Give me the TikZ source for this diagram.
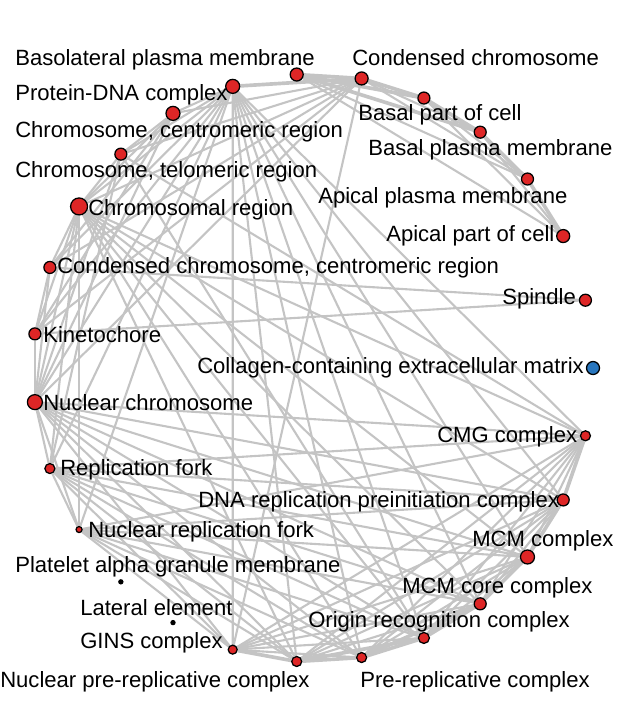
\documentclass[tikz,border=0pt]{standalone}
\usepackage{fontspec}
\setmainfont{Liberation Sans}
\usetikzlibrary{positioning}
\pgfdeclarelayer{background}
\pgfsetlayers{background,main}
\definecolor{nodered}{RGB}{222,38,38}
\definecolor{nodeblue}{RGB}{40,118,190}
\definecolor{edgegray}{RGB}{196,196,196}

\begin{document}
\begin{tikzpicture}[
	% pixel grid of the figure, y runs down:
	x={(0.025cm,0cm)},
	y={(0cm,-0.025cm)},
	font=\fontsize{15.7}{18}\selectfont,
	dot/.style={circle,draw=black,line width=0.9pt,inner sep=0pt},
	edge/.style={edgegray,line width=1.5pt},
	edgethick/.style={edgegray,line width=2.6pt},
	lbl/.style={anchor=base west,inner sep=0pt}
	]
	\useasboundingbox (0,0) rectangle (632,716);
	
	%
	% Terms on the ellipse (27 slots)
	%
	\foreach \k/\r/\c in {0/6.5/nodeblue,1/6/nodered,2/6.5/nodered,3/6/nodered,
		4/6/nodered,5/6/nodered,6/6.5/nodered,7/6.5/nodered,8/7/nodered,
		9/7/nodered,10/6/nodered,11/8.5/nodered,12/6/nodered,13/6/nodered,
		14/7.5/nodered,15/5/nodered,16/3/nodered,17/2/black,18/2/black,
		19/4.5/nodered,20/5/nodered,21/5/nodered,22/5.5/nodered,23/6/nodered,
		24/7/nodered,25/6/nodered,26/5/nodered}{
		\node[dot,fill=\c,minimum size=2*\r*0.025cm] (n\k)
		at ({313+280*cos(\k*360/27)},{368-294*sin(\k*360/27)}) {};
	}
	
	%
	% Shared-gene links
	%
	\begin{pgfonlayer}{background}
	\foreach \a/\b in {7/3,7/2,6/4,6/3,5/3,5/2,4/2,1/12,1/13,
		8/9,8/10,8/11,8/12,8/13,8/14,8/15,8/16,
		6/9,6/10,6/11,6/12,6/13,6/14,
		9/10,9/11,9/12,9/13,9/14,10/11,10/14,10/15,
		11/12,11/13,11/14,11/15,11/16,12/13,12/14,13/14,
		14/15,14/16,15/16,
		8/19,8/20,8/21,8/22,8/23,8/24,8/25,8/26,6/19,
		11/20,11/21,11/22,11/23,11/24,11/25,11/26,10/22,10/26,
		14/19,14/20,14/21,14/22,14/23,14/24,14/25,14/26,
		15/19,15/20,15/21,15/22,15/23,15/24,15/25,15/26,
		16/19,16/20,16/21,16/22,16/23,16/24,16/25,16/26,
		19/21,19/22,19/23,19/24,19/25,19/26,20/23,20/24,20/25,20/26,
		21/24,21/25,21/26,22/24,22/25,22/26,23/25,23/26,24/26}{
		\draw[edge] (n\a) -- (n\b);
	}
	\foreach \a/\b in {7/6,7/5,7/4,6/5,5/4,4/3,3/2,8/6,
		19/20,20/21,21/22,22/23,23/24,24/25,25/26,20/22,21/23}{
		\draw[edgethick] (n\a) -- (n\b);
	}
	\end{pgfonlayer}
	
	%
	% Labels
	%
	\node[lbl] (t0) at (197,373) {Collagen-containing extracellular matrix};
	\node[lbl] (t1) at (502,304) {Spindle};
	\node[lbl] (t2) at (386,241) {Apical part of cell};
	\node[lbl] (t3) at (318,203) {Apical plasma membrane};
	\node[lbl] (t4) at (368,155) {Basal plasma membrane};
	\node[lbl] (t5) at (358,120) {Basal part of cell};
	\node[lbl] (t6) at (352,66) {Condensed chromosome};
	\node[lbl] (t7) at (15,66) {Basolateral plasma membrane};
	\node[lbl] (t8) at (15,100) {Protein-DNA complex};
	\node[lbl] (t9) at (15,137) {Chromosome, centromeric region};
	\node[lbl] (t10) at (15,177) {Chromosome, telomeric region};
	\node[lbl] (t11) at (88,215) {Chromosomal region};
	\node[lbl] (t12) at (57,273) {Condensed chromosome, centromeric region};
	\node[lbl] (t13) at (43,342) {Kinetochore};
	\node[lbl] (t14) at (43,410) {Nuclear chromosome};
	\node[lbl] (t15) at (60,475) {Replication fork};
	\node[lbl] (t16) at (88,537) {Nuclear replication fork};
	\node[lbl] (t17) at (15,572) {Platelet alpha granule membrane};
	\node[lbl] (t18) at (80,615) {Lateral element};
	\node[lbl] (t19) at (80,648) {GINS complex};
	\node[lbl] (t20) at (0,687) {Nuclear pre-replicative complex};
	\node[lbl] (t21) at (360,687) {Pre-replicative complex};
	\node[lbl] (t22) at (308,627) {Origin recognition complex};
	\node[lbl] (t23) at (402,593) {MCM core complex};
	\node[lbl] (t24) at (472,546) {MCM complex};
	\node[lbl] (t25) at (198,507) {DNA replication preinitiation complex};
	\node[lbl] (t26) at (437,442) {CMG complex};
\end{tikzpicture}
\end{document}
